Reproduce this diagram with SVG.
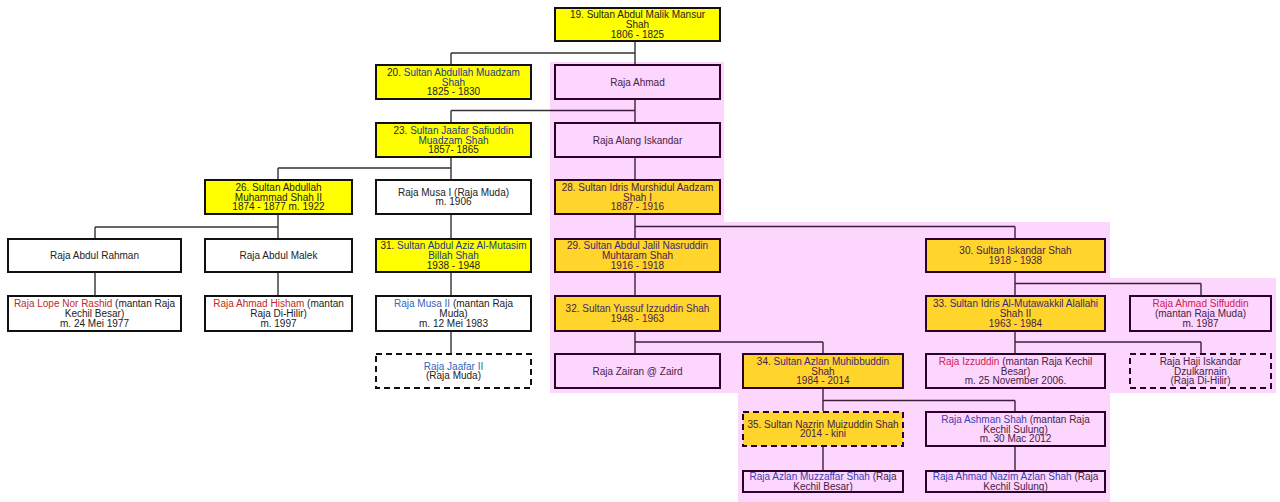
<svg xmlns="http://www.w3.org/2000/svg" width="1280" height="502" viewBox="0 0 1280 502">
<style>
.b{stroke:#111;stroke-width:2}
.y{fill:#ffff00}
.w{fill:#ffffff}
.g{fill:#ffd42b;stroke:#2b002b}
.p{fill:#fdd6fd;stroke:#2b002b}
.d{stroke-dasharray:6 4}
text{font-family:"Liberation Sans",Arial,sans-serif;font-size:10px;text-anchor:middle;fill:#222}
text.tp{fill:#482048}
.red{fill:#c0282c}
.redp{fill:#d02050}
.blue{fill:#3366bb}
.bluep{fill:#3a3db5}
.navy{fill:#1a3a8a}
.navyp{fill:#3b2a78}
.c{fill:none;stroke:#333;stroke-width:1.4}
.cp{fill:none;stroke:#3d1f3d;stroke-width:1.4}
</style>
<rect width="1280" height="502" fill="#ffffff"/>
<path id="pink-area" d="M550,62 H724 V222 H1110 V278 H1276 V393 H1110 V502 H738 V393 H550 Z" fill="#fdd6fd"/>
<g id="connectors">
<path class="c" d="M635,42 V62 M451,53 H635 M451,53 V64"/>
<path class="cp" d="M635,62 V64"/>
<path class="cp" d="M635,100 V122 M550,110.5 H635"/>
<path class="c" d="M451,110.5 H550 M451,110.5 V122"/>
<path class="c" d="M451,158 V179 M278,168 H451 M278,168 V179"/>
<path class="cp" d="M635,158 V179"/>
<path class="c" d="M278,215 V238 M95,227 H278 M95,227 V238"/>
<path class="c" d="M451,215 V238"/>
<path class="cp" d="M635,215 V238 M635,226.5 H1015 M1015,226.5 V238"/>
<path class="c" d="M95,273 V295 M278,273 V295 M451,273 V295"/>
<path class="cp" d="M635,273 V295"/>
<path class="cp" d="M1015,273 V295 M1015,283.5 H1201 M1201,283.5 V295"/>
<path class="c" d="M451,332 V353"/>
<path class="cp" d="M635,332 V353 M635,342 H823 M823,342 V353"/>
<path class="cp" d="M1015,332 V353 M1015,342 H1201 M1201,342 V353"/>
<path class="cp" d="M823,389 V411 M823,400.5 H1015 M1015,400.5 V411"/>
<path class="cp" d="M823,447 V470 M1015,447 V470"/>
</g>
<g id="n19"><rect class="b y" x="555" y="8" width="165" height="33"/>
<text x="637.5" y="18.4">19. Sultan Abdul Malik Mansur</text><text x="637.5" y="28">Shah</text><text x="637.5" y="37.6">1806 - 1825</text></g>
<g id="n20"><rect class="b y" x="376" y="65" width="155" height="34"/>
<text x="453.5" y="75.9">20. <tspan class="navy">Sultan Abdullah Muadzam</tspan></text><text x="453.5" y="85.5" class="navy">Shah</text><text x="453.5" y="95.1">1825 - 1830</text></g>
<g id="raja-ahmad"><rect class="b p" x="555" y="65" width="165" height="34"/>
<text class="tp" x="637.5" y="85.5">Raja Ahmad</text></g>
<g id="n23"><rect class="b y" x="376" y="123" width="155" height="34"/>
<text x="453.5" y="133.9">23. <tspan class="navy">Sultan Jaafar Safiuddin</tspan></text><text x="453.5" y="143.5" class="navy">Muadzam Shah</text><text x="453.5" y="153.1">1857- 1865</text></g>
<g id="raja-alang-iskandar"><rect class="b p" x="555" y="123" width="165" height="34"/>
<text class="tp" x="637.5" y="143.5">Raja Alang Iskandar</text></g>
<g id="n26"><rect class="b y" x="205" y="180" width="147" height="34"/>
<text x="278.5" y="190.9">26. Sultan Abdullah</text><text x="278.5" y="200.5">Muhammad Shah II</text><text x="278.5" y="210.1">1874 - 1877 m. 1922</text></g>
<g id="raja-musa-1"><rect class="b w" x="376" y="180" width="155" height="34"/>
<text x="453.5" y="195.7">Raja Musa I (Raja Muda)</text><text x="453.5" y="205.3">m. 1906</text></g>
<g id="n28"><rect class="b g" x="555" y="180" width="165" height="34"/>
<text class="tp" x="637.5" y="190.9">28. Sultan Idris Murshidul Aadzam</text><text class="tp" x="637.5" y="200.5">Shah I</text><text class="tp" x="637.5" y="210.1">1887 - 1916</text></g>
<g id="raja-abdul-rahman"><rect class="b w" x="8" y="239" width="173" height="33"/>
<text x="94.5" y="259">Raja Abdul Rahman</text></g>
<g id="raja-abdul-malek"><rect class="b w" x="205" y="239" width="147" height="33"/>
<text x="278.5" y="259">Raja Abdul Malek</text></g>
<g id="n31"><rect class="b y" x="376" y="239" width="155" height="33"/>
<text x="453.5" y="249.4">31. <tspan class="navy">Sultan Abdul Aziz Al-Mutasim</tspan></text><text x="453.5" y="259" class="navy">Billah Shah</text><text x="453.5" y="268.6">1938 - 1948</text></g>
<g id="n29"><rect class="b g" x="555" y="239" width="165" height="33"/>
<text class="tp" x="637.5" y="249.4">29. <tspan class="navyp">Sultan Abdul Jalil Nasruddin</tspan></text><text class="tp navyp" x="637.5" y="259">Muhtaram Shah</text><text class="tp" x="637.5" y="268.6">1916 - 1918</text></g>
<g id="n30"><rect class="b g" x="926" y="239" width="179" height="33"/>
<text class="tp" x="1015.5" y="254.2">30. Sultan Iskandar Shah</text><text class="tp" x="1015.5" y="263.8">1918 - 1938</text></g>
<g id="raja-lope-nor-rashid"><rect class="b w" x="8" y="296" width="173" height="35"/>
<text x="94.5" y="307.4"><tspan class="red">Raja Lope Nor Rashid</tspan> (mantan Raja</text><text x="94.5" y="317">Kechil Besar)</text><text x="94.5" y="326.6">m. 24 Mei 1977</text></g>
<g id="raja-ahmad-hisham"><rect class="b w" x="205" y="296" width="147" height="35"/>
<text x="278.5" y="307.4"><tspan class="red">Raja Ahmad Hisham</tspan> (mantan</text><text x="278.5" y="317">Raja Di-Hilir)</text><text x="278.5" y="326.6">m. 1997</text></g>
<g id="raja-musa-2"><rect class="b w" x="376" y="296" width="155" height="35"/>
<text x="453.5" y="307.4"><tspan class="blue">Raja Musa II</tspan> (mantan Raja</text><text x="453.5" y="317">Muda)</text><text x="453.5" y="326.6">m. 12 Mei 1983</text></g>
<g id="n32"><rect class="b g" x="555" y="296" width="165" height="35"/>
<text class="tp" x="637.5" y="312.2">32. <tspan class="navyp">Sultan Yussuf Izzuddin Shah</tspan></text><text class="tp" x="637.5" y="321.8">1948 - 1963</text></g>
<g id="n33"><rect class="b g" x="926" y="296" width="179" height="35"/>
<text class="tp" x="1015.5" y="307.4">33. <tspan class="navyp">Sultan Idris Al-Mutawakkil Alallahi</tspan></text><text class="tp navyp" x="1015.5" y="317">Shah II</text><text class="tp" x="1015.5" y="326.6">1963 - 1984</text></g>
<g id="raja-ahmad-siffuddin"><rect class="b p" x="1130" y="296" width="141" height="35"/>
<text class="tp" x="1200.5" y="307.4"><tspan class="redp">Raja Ahmad Siffuddin</tspan></text><text class="tp" x="1200.5" y="317">(mantan Raja Muda)</text><text class="tp" x="1200.5" y="326.6">m. 1987</text></g>
<g id="raja-jaafar-2"><rect class="b w d" x="376" y="354" width="155" height="34"/>
<text x="453.5" y="369.7" class="blue">Raja Jaafar II</text><text x="453.5" y="379.3">(Raja Muda)</text></g>
<g id="raja-zairan"><rect class="b p" x="555" y="354" width="165" height="34"/>
<text class="tp" x="637.5" y="374.5">Raja Zairan @ Zaird</text></g>
<g id="n34"><rect class="b g" x="743" y="354" width="160" height="34"/>
<text class="tp" x="823" y="364.9">34. <tspan class="navyp">Sultan Azlan Muhibbuddin</tspan></text><text class="tp navyp" x="823" y="374.5">Shah</text><text class="tp" x="823" y="384.1">1984 - 2014</text></g>
<g id="raja-izzuddin"><rect class="b p" x="926" y="354" width="179" height="34"/>
<text class="tp" x="1015.5" y="364.9"><tspan class="redp">Raja Izzuddin</tspan> (mantan Raja Kechil</text><text class="tp" x="1015.5" y="374.5">Besar)</text><text class="tp" x="1015.5" y="384.1">m. 25 November 2006.</text></g>
<g id="raja-haji-iskandar"><rect class="b p d" x="1130" y="354" width="141" height="34"/>
<text class="tp bluep" x="1200.5" y="364.9">Raja Haji Iskandar</text><text class="tp bluep" x="1200.5" y="374.5">Dzulkarnain</text><text class="tp" x="1200.5" y="384.1">(Raja Di-Hilir)</text></g>
<g id="n35"><rect class="b g d" x="743" y="412" width="160" height="34"/>
<text class="tp" x="823" y="427.7">35. Sultan Nazrin Muizuddin Shah</text><text class="tp" x="823" y="437.3">2014 - kini</text></g>
<g id="raja-ashman-shah"><rect class="b p" x="926" y="412" width="179" height="34"/>
<text class="tp" x="1015.5" y="422.9"><tspan class="bluep">Raja Ashman Shah</tspan> (mantan Raja</text><text class="tp" x="1015.5" y="432.5">Kechil Sulung)</text><text class="tp" x="1015.5" y="442.1">m. 30 Mac 2012</text></g>
<g id="raja-azlan-muzzaffar"><rect class="b p" x="743" y="471" width="160" height="21"/>
<text class="tp" x="823" y="480.2"><tspan class="bluep">Raja Azlan Muzzaffar Shah</tspan> (Raja</text><text class="tp" x="823" y="489.8">Kechil Besar)</text></g>
<g id="raja-ahmad-nazim"><rect class="b p" x="926" y="471" width="179" height="21"/>
<text class="tp" x="1015.5" y="480.2"><tspan class="bluep">Raja Ahmad Nazim Azlan Shah</tspan> (Raja</text><text class="tp" x="1015.5" y="489.8">Kechil Sulung)</text></g>
</svg>
